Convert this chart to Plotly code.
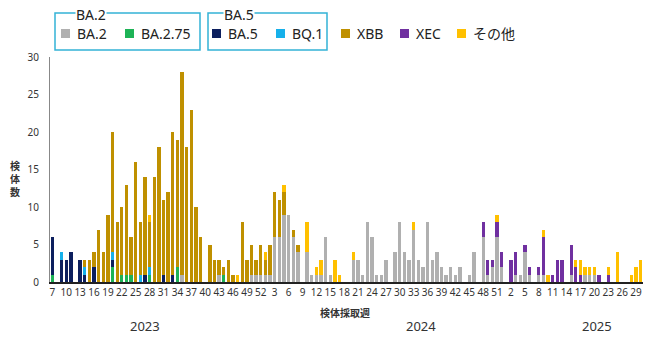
import plotly.graph_objects as go

# Sampling weeks (ISO week numbers) per year
weeks_2023 = list(range(7, 53))
weeks_2024 = list(range(1, 53))
weeks_2025 = list(range(1, 31))
week_labels = weeks_2023 + weeks_2024 + weeks_2025
years = ["2023", "2024", "2025"]

# Detected lineage counts per week
ba2 = (
    [0, 0, 0, 0, 0, 0, 0, 0, 0, 0,  0, 0, 0, 0, 0, 0, 0, 0, 0, 0,
     0, 0, 0, 0, 0, 0, 0, 0, 1, 0,  0, 0, 0, 0, 0, 0, 1, 0, 0, 0,
     0, 0, 0, 1, 1, 1]
    + [1, 1, 6, 6, 9, 9, 6, 4, 0, 4,  1, 1, 1, 6, 1, 0, 0, 0, 0, 3,
       3, 1, 8, 6, 1, 1, 3, 0, 4, 8,  4, 3, 7, 3, 2, 8, 3, 4, 2, 1,
       2, 1, 2, 0, 1, 4, 0, 6, 1, 2,  6, 2]
    + [0, 0, 1, 1, 4, 1, 0, 1, 1, 0,  0, 0, 0, 0, 1, 0, 0, 1, 1, 1,
       0, 0, 0, 0, 0, 0, 0, 0, 0, 0]
)
ba2_75 = (
    [1, 0, 0, 0, 0, 0, 0, 0, 0, 0,  0, 0, 0, 2, 0, 1, 1, 1, 0, 0,
     0, 1, 0, 0, 0, 0, 0, 2, 0, 0,  0, 0, 0, 0, 0, 0, 0, 1, 0, 0,
     0, 0, 0, 0, 0, 0]
    + [0] * 52 + [0] * 30
)
ba5 = (
    [5, 0, 3, 3, 4, 0, 3, 1, 0, 2,  0, 0, 0, 1, 0, 0, 0, 0, 0, 0,
     1, 0, 0, 0, 1, 0, 1, 0, 0, 0,  0, 0, 0, 0, 0, 0, 0, 0, 0, 0,
     0, 0, 0, 0, 0, 0]
    + [0] * 52 + [0] * 30
)
bq1 = (
    [0, 0, 1, 0, 0, 0, 0, 1, 0, 0,  0, 0, 0, 1, 0, 0, 0, 0, 0, 1,
     0, 1, 0, 0, 0, 0, 0, 0, 0, 0,  0, 0, 0, 0, 0, 0, 0, 0, 0, 0,
     0, 0, 0, 0, 0, 0]
    + [0] * 52 + [0] * 30
)
xbb = (
    [0, 0, 0, 0, 0, 0, 0, 1, 3, 2,  7, 4, 9, 16, 8, 9, 12, 5, 16, 7,
     13, 6, 14, 18, 10, 12, 19, 17, 27, 18,  23, 10, 6, 0, 5, 3, 2, 1, 3, 1,
     0, 8, 3, 4, 2, 4]
    + [2, 4, 6, 5, 3, 0, 1, 1, 0, 0] + [0] * 42
    + [0] * 30
)
xec = (
    [0] * 46
    + [0] * 47 + [2, 2, 1, 2, 2]
    + [0, 3, 3, 0, 1, 1, 0, 1, 5, 0,  1, 3, 3, 0, 4, 2, 1, 0, 0, 0,
       1, 0, 1, 0, 0, 0, 0, 0, 0, 0]
)
other = (
    [0, 0, 0, 0, 0, 0, 0, 0, 0, 0,  0, 0, 0, 0, 0, 0, 0, 0, 0, 0,
     0, 1, 0, 0, 0, 0, 0, 0, 0, 0,  0, 0, 0, 0, 0, 0, 0, 0, 0, 0,
     1, 0, 0, 0, 0, 0]
    + [1, 0, 0, 0, 1, 0, 0, 0, 0, 4,  0, 1, 2, 0, 0, 3, 1, 0, 0, 1,
       0, 0, 0, 0, 0, 0, 0, 0, 0, 0,  0, 0, 1, 0, 0, 0, 0, 0, 0, 0,
       0, 0, 0, 0, 0, 0, 0, 0, 0, 0,  1, 0]
    + [0, 0, 0, 0, 0, 0, 0, 0, 1, 1,  0, 0, 0, 0, 0, 1, 2, 1, 1, 1,
       0, 0, 1, 0, 4, 0, 0, 1, 2, 3]
)

series_names = ["BA.2", "BA.2.75", "BA.5", "BQ.1", "XBB", "XEC", "その他"]
series_values = [ba2, ba2_75, ba5, bq1, xbb, xec, other]
series_colors = ["#b0b0b0", "#1db356", "#0c1f5e", "#16b0ea", "#bf9000", "#7030a0", "#ffc000"]

FONT = "Noto Sans, Noto Sans CJK JP, sans-serif"
x_idx = list(range(len(week_labels)))

fig = go.Figure()
for name, vals, col in zip(series_names, series_values, series_colors):
    fig.add_trace(go.Bar(x=x_idx, y=vals, name=name, marker_color=col,
                         marker_line_width=0, showlegend=False))

# Plot area in pixels (650 x 341 page)
W, H = 650, 341
L, R, T, B = 50, 643, 57, 282


def px(x):
    return (x - L) / (R - L)


def py(y):
    return (B - y) / (B - T)


def label(x, y, text, size, color="#333333", **kw):
    d = dict(x=px(x), y=py(y), xref="paper", yref="paper", text=text,
             showarrow=False, yanchor="middle", font=dict(size=size, color=color))
    d.setdefault("xanchor", "center")
    d.update(kw)
    return d


tickvals = x_idx[::3]
ticktext = [str(week_labels[i]) for i in tickvals]

fig.update_layout(
    width=W, height=H,
    margin=dict(l=L, r=W - R, t=T, b=H - B),
    barmode="stack", bargap=0.28,
    plot_bgcolor="white", paper_bgcolor="white",
    font=dict(family=FONT, color="#333333"),
    xaxis=dict(range=[-0.5, len(x_idx) - 0.5], tickvals=tickvals, ticktext=ticktext,
               tickangle=0, showgrid=False, zeroline=False, showline=True,
               linecolor="#222222", linewidth=1.5, ticks="",
               tickfont=dict(size=10, color="#333333")),
    yaxis=dict(range=[0, 30], dtick=5, showgrid=False, zeroline=False,
               showline=True, linecolor="#888888", linewidth=1, ticks="",
               ticklabelstandoff=8, tickfont=dict(size=10, color="#333333")),
)

ann = []
shapes = []

# axis titles and year labels
ann.append(label(15, 179, "<b>検<br>体<br>数</b>", 10))
ann.append(label(345, 313, "<b>検体採取週</b>", 10))
for yr, xc in zip(years, [145, 421, 597]):
    ann.append(label(xc, 326, yr, 13))

# legend: grouped boxes for BA.2 / BA.5 lineages, then single items
box_color = "#33b3d6"
for (x0, x1, title, tx) in [(55, 200, "BA.2", 91), (208, 327, "BA.5", 239)]:
    shapes.append(dict(type="rect", xref="paper", yref="paper",
                       x0=px(x0), x1=px(x1), y0=py(50), y1=py(13),
                       line=dict(color=box_color, width=1.5), fillcolor="rgba(0,0,0,0)"))
    ann.append(label(tx, 14, title, 14, "#222222", bgcolor="white", borderpad=0))

legend_pos = [61, 125, 212, 276, 341, 400, 457]
for (name, col, sx) in zip(series_names, series_colors, legend_pos):
    shapes.append(dict(type="rect", xref="paper", yref="paper",
                       x0=px(sx), x1=px(sx + 9), y0=py(38), y1=py(29),
                       line=dict(width=0), fillcolor=col))
    ann.append(label(sx + 14, 33, name, 14, "#222222", xanchor="left"))

fig.update_layout(annotations=ann, shapes=shapes)
fig.write_html("out.html")
